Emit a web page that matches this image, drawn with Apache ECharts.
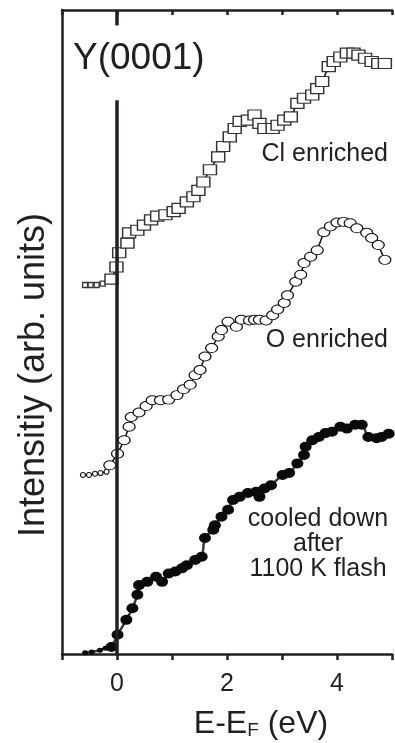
<!DOCTYPE html>
<html>
<head>
<meta charset="utf-8">
<script src="https://cdn.jsdelivr.net/npm/echarts@6/dist/echarts.min.js"></script>
<style>
html,body{margin:0;padding:0;background:#fff;}
#chart{width:395px;height:743px;}
</style>
</head>
<body>
<div id="chart"></div>
<script>
// Energy (eV, relative to E_F) and intensity (arb. units)
const clEnergy = [-0.58,-0.48,-0.37,-0.26,-0.10,-0.01,0.04,0.19,0.22,0.37,0.49,0.62,0.73,0.88,1.03,1.12,1.27,1.39,1.48,1.57,1.69,1.84,1.93,2.05,2.14,2.23,2.38,2.50,2.59,2.68,2.83,2.92,3.04,3.16,3.28,3.40,3.55,3.64,3.73,3.85,3.94,4.06,4.18,4.30,4.39,4.51,4.63,4.75,4.87];
const clIntensity = [57.3,57.3,57.3,57.5,58.2,60.1,62.3,63.8,65.4,65.8,66.6,67.4,68.0,68.2,68.7,69.2,70.2,71.0,72.0,73.3,75.2,77.2,78.8,80.3,81.6,82.7,82.9,83.7,82.4,81.6,81.6,82.1,82.9,83.4,85.5,86.3,86.8,87.8,88.9,91.2,92.0,92.7,93.3,93.3,93.0,92.5,92.0,91.7,91.7];

const oEnergy = [-0.62,-0.51,-0.40,-0.30,-0.19,-0.13,0.01,0.13,0.22,0.26,0.40,0.53,0.64,0.79,0.94,1.09,1.21,1.33,1.42,1.51,1.60,1.72,1.84,1.90,2.02,2.17,2.26,2.41,2.50,2.59,2.71,2.83,2.92,3.04,3.10,3.25,3.34,3.40,3.52,3.64,3.76,3.88,4.00,4.12,4.24,4.36,4.54,4.63,4.75,4.87];
const oIntensity = [27.8,27.8,28.0,28.1,28.3,29.3,31.1,33.2,35.3,36.8,37.5,38.5,39.4,39.4,39.5,40.2,41.1,41.8,43.3,44.1,46.2,47.5,49.3,50.3,51.6,50.8,51.9,51.8,51.9,51.9,51.8,52.6,53.5,54.5,55.7,57.8,58.9,60.7,61.7,62.7,65.5,66.4,67.0,67.1,66.9,66.1,65.4,64.6,63.5,61.2];

const flashEnergy = [-0.58,-0.46,-0.31,-0.21,-0.10,0.01,0.17,0.28,0.37,0.40,0.55,0.71,0.82,0.94,1.06,1.18,1.27,1.42,1.54,1.60,1.75,1.78,1.90,2.02,2.11,2.23,2.38,2.53,2.59,2.68,2.80,3.01,3.13,3.28,3.40,3.43,3.55,3.67,3.79,3.91,4.06,4.18,4.33,4.45,4.57,4.72,4.81,4.94];
const flashIntensity = [0.2,0.3,0.6,0.9,1.1,3.0,5.3,7.1,9.2,10.7,11.2,12.0,11.2,12.5,12.8,13.3,13.8,14.6,15.1,18.0,19.3,20.0,21.3,22.4,23.9,24.4,25.0,25.2,24.4,25.7,26.2,27.8,28.1,29.6,30.9,32.2,33.2,33.7,34.3,34.5,35.3,35.0,35.6,35.6,33.7,33.5,33.7,34.2];

const xTickLabels = ['0','2','4'];
const FERMI = 0;
const xMin = -1, xMax = 5, yMin = 0, yMax = 100;
const tailEnd = -0.15;

function zip(a, b){ return a.map((v,i)=>[v,b[i]]); }

const FONT = "'Liberation Sans', Arial, sans-serif";
const chart = echarts.init(document.getElementById('chart'), null, {renderer:'canvas'});

function sizeFn(big, small){
  return function(val){ return val[0] < tailEnd ? small : big; };
}

chart.setOption({
  animation:false,
  backgroundColor:'#fff',
  grid:{left:62, right:-1, top:10, bottom:89, containLabel:false},
  xAxis:[{
    type:'value', min:xMin, max:xMax, interval:1, position:'bottom',
    axisLine:{show:true, onZero:false, lineStyle:{color:'#231f20', width:2.5}},
    axisTick:{show:true, inside:false, length:6, lineStyle:{color:'#231f20', width:2.5}},
    axisLabel:{margin:18, fontSize:25, color:'#231f20', fontFamily:FONT,
      formatter:function(v){ const s=String(Math.round(v)); return xTickLabels.indexOf(s)>=0 ? s : ''; }},
    splitLine:{show:false}
  },{
    type:'value', min:xMin, max:xMax, interval:1, position:'top',
    axisLine:{show:true, onZero:false, lineStyle:{color:'#231f20', width:2.5}},
    axisTick:{show:true, inside:true, length:5, lineStyle:{color:'#231f20', width:2.5}},
    axisLabel:{show:false},
    splitLine:{show:false}
  }],
  yAxis:{
    type:'value', min:yMin, max:yMax,
    axisLine:{show:true, onZero:false, lineStyle:{color:'#231f20', width:2.5}},
    axisTick:{show:false}, axisLabel:{show:false}, splitLine:{show:false}
  },
  series:[{
    name:'Fermi', type:'line', data:[], silent:true,
    markLine:{
      silent:true, symbol:'none', label:{show:false},
      lineStyle:{color:'#231f20', width:3.5, type:'solid'},
      data:[
        [{coord:[FERMI, yMin]},{coord:[FERMI, 86]}],
        [{coord:[FERMI, 97.6]},{coord:[FERMI, yMax]}]
      ]
    },
    z:5
  },{
    name:'Cl enriched', type:'line', data:zip(clEnergy, clIntensity),
    symbol:'rect', symbolSize:sizeFn([13,10],[5,5]),
    itemStyle:{color:'#fff', borderColor:'#333', borderWidth:1.3},
    lineStyle:{color:'#111', width:1.5},
    z:3
  },{
    name:'O enriched', type:'line', data:zip(oEnergy, oIntensity),
    symbol:'circle', symbolSize:sizeFn([12,9],[5,5]),
    itemStyle:{color:'#fff', borderColor:'#111', borderWidth:1.1},
    lineStyle:{color:'#111', width:1.5},
    z:3
  },{
    name:'cooled down after 1100 K flash', type:'line', data:zip(flashEnergy, flashIntensity),
    symbol:'circle', symbolSize:sizeFn([12,10],[6,5]),
    smooth:0.3,
    itemStyle:{color:'#0a0a0a', borderColor:'#0a0a0a', borderWidth:0},
    lineStyle:{color:'#3a3a3a', width:2.5},
    z:3
  }],
  graphic:[
    {type:'text', left:73, top:40, z:10, style:{text:'Y(0001)', fontSize:37, fontFamily:FONT, fill:'#231f20', backgroundColor:'#fff'}},
    {type:'text', x:388, y:154, z:10, style:{text:'Cl enriched', fontSize:25, fontFamily:FONT, fill:'#231f20', align:'right', verticalAlign:'middle'}},
    {type:'text', x:388, y:340, z:10, style:{text:'O enriched', fontSize:25, fontFamily:FONT, fill:'#231f20', align:'right', verticalAlign:'middle'}},
    {type:'text', x:318, y:544, z:10, style:{text:'cooled down\nafter\n1100 K flash', fontSize:25, lineHeight:25, fontFamily:FONT, fill:'#231f20', align:'center', verticalAlign:'middle'}},
    {type:'text', x:34, y:375, rotation:Math.PI/2, z:10, style:{text:'Intensitiy (arb. units)', fontSize:36, fontFamily:FONT, fill:'#231f20', align:'center', verticalAlign:'middle'}},
    {type:'text', x:261, y:722, z:10, style:{
      text:'{m|E-E}{s|F}{m| (eV)}', align:'center', verticalAlign:'middle', fill:'#231f20',
      rich:{
        m:{fontSize:32, fontFamily:FONT, fill:'#231f20', verticalAlign:'bottom', lineHeight:36},
        s:{fontSize:19, fontFamily:FONT, fill:'#231f20', verticalAlign:'bottom', lineHeight:28, padding:[0,0,0,0]}
      }
    }}
  ]
});
</script>
</body>
</html>
